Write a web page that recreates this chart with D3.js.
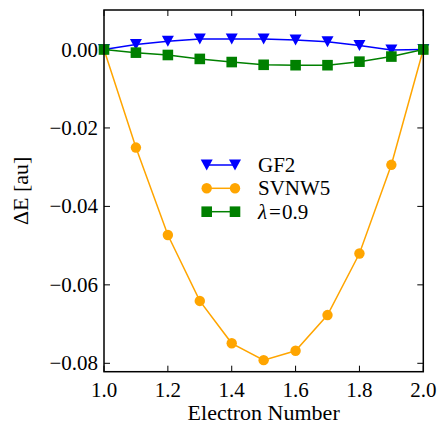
<!DOCTYPE html>
<html><head><meta charset="utf-8">
<script src="https://cdn.jsdelivr.net/npm/d3@7"></script>
</head><body style="margin:0">
<svg id="c" width="440" height="433" style="font-family:'Liberation Serif','FreeSerif',serif"></svg>
<script>
const electrons = [1.0,1.1,1.2,1.3,1.4,1.5,1.6,1.7,1.8,1.9,2.0];
const gf2 = [0.0,0.0013,0.0021,0.0027,0.0027,0.0027,0.0024,0.0020,0.0010,-0.0001,0.0];
const svwn5 = [0.0,-0.0250,-0.0473,-0.0641,-0.0749,-0.0792,-0.0768,-0.0677,-0.0520,-0.0294,0.0];
const lambda09 = [0.0,-0.0008,-0.0014,-0.0024,-0.0032,-0.0039,-0.0040,-0.0040,-0.0031,-0.0018,0.0];
const xTicks = [1.0,1.2,1.4,1.6,1.8,2.0];
const yTicks = [0.00,-0.02,-0.04,-0.06,-0.08];
const seriesNames = ["GF2","SVNW5","λ=0.9"];

const svg = d3.select("#c");
const FONT = '"Liberation Serif"';
const L=104, R=423.3, T=10, B=371.7;
const x = d3.scaleLinear().domain([1.0,2.0]).range([L,R]);
const y = d3.scaleLinear().domain([-0.08214,0.01007]).range([B,T]);
const fmtY = d => (d<0?"−":"") + Math.abs(d).toFixed(2);

const tl = 6;
xTicks.forEach(t=>{
  svg.append("line").attr("x1",x(t)).attr("x2",x(t)).attr("y1",B).attr("y2",B-tl).attr("stroke","#000").attr("stroke-width",1);
  svg.append("line").attr("x1",x(t)).attr("x2",x(t)).attr("y1",T).attr("y2",T+tl).attr("stroke","#000").attr("stroke-width",1);
  svg.append("text").attr("x",x(t)).attr("y",B+25).attr("text-anchor","middle")
   .style("font-family",FONT).attr("font-size",21).text(t.toFixed(1));
});
yTicks.forEach(t=>{
  svg.append("line").attr("x1",L).attr("x2",L+tl).attr("y1",y(t)).attr("y2",y(t)).attr("stroke","#000").attr("stroke-width",1);
  svg.append("line").attr("x1",R).attr("x2",R-tl).attr("y1",y(t)).attr("y2",y(t)).attr("stroke","#000").attr("stroke-width",1);
  svg.append("text").attr("x",L-6).attr("y",y(t)+7).attr("text-anchor","end")
   .style("font-family",FONT).attr("font-size",21).text(fmtY(t));
});

const line = d3.line().x((d,i)=>x(electrons[i])).y(d=>y(d));
const series = [
  {name:seriesNames[0], data:gf2, color:"#0000ff", marker:"tri"},
  {name:seriesNames[1], data:svwn5, color:"#ffa500", marker:"circle"},
  {name:seriesNames[2], data:lambda09, color:"#008000", marker:"square"}
];
function drawMarker(sel, type, cx, cy, color){
  if(type==="circle") sel.append("circle").attr("cx",cx).attr("cy",cy).attr("r",5.2).attr("fill",color);
  else if(type==="square") sel.append("rect").attr("x",cx-5.3).attr("y",cy-5.3).attr("width",10.6).attr("height",10.6).attr("fill",color);
  else sel.append("path").attr("d",`M${cx-6},${cy-5.5}L${cx+6},${cy-5.5}L${cx},${cy+5.5}Z`).attr("fill",color);
}
series.forEach(s=>{
  svg.append("path").attr("d",line(s.data)).attr("fill","none").attr("stroke",s.color).attr("stroke-width",1.5);
  s.data.forEach((d,i)=>drawMarker(svg, s.marker, x(electrons[i]), y(d), s.color));
});

svg.append("rect").attr("x",L).attr("y",T).attr("width",R-L).attr("height",B-T)
  .attr("fill","none").attr("stroke","#000").attr("stroke-width",1.5);

const legY=[165,188.3,211.7];
series.forEach((s,i)=>{
  svg.append("line").attr("x1",206.7).attr("x2",235).attr("y1",legY[i]).attr("y2",legY[i]).attr("stroke",s.color).attr("stroke-width",1.5);
  drawMarker(svg,s.marker,206.7,legY[i],s.color);
  drawMarker(svg,s.marker,235,legY[i],s.color);
  const t = svg.append("text").attr("x",258).attr("y",legY[i]+7).style("font-family",FONT).attr("font-size",21);
  if(i===2){
    t.append("tspan").attr("font-style","italic").text("λ");
    t.append("tspan").attr("dx",2).text("=");
    t.append("tspan").attr("dx",1).text("0.9");
  } else t.text(s.name);
});

svg.append("text").attr("x",(L+R)/2).attr("y",420).attr("text-anchor","middle")
  .style("font-family",FONT).attr("font-size",22).text("Electron Number");
svg.append("text").attr("transform",`translate(28,${(T+B)/2}) rotate(-90)`).attr("text-anchor","middle")
  .style("font-family",FONT).attr("font-size",22).text("ΔE [au]");
</script>
</body></html>
